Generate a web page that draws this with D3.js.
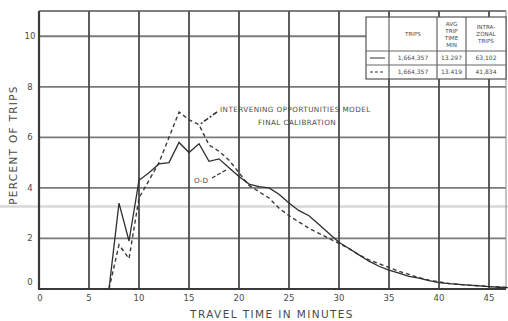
<!DOCTYPE html>
<html>
<head>
<meta charset="utf-8">
<script src="https://cdn.jsdelivr.net/npm/d3@7"></script>
<style>
  html, body { margin: 0; padding: 0; background: #fff; }
  svg { display: block; }
  text { font-family: "DejaVu Sans", sans-serif; fill: #4a4a4a; }
</style>
</head>
<body>
<svg id="chart" width="508" height="321"></svg>
<script>
// Travel time (minutes) for each plotted point
const minutes = [7, 8, 9, 10, 11, 12, 13, 14, 15, 16, 17, 18, 19, 20, 21, 22, 23, 24, 25, 26, 27,
  28, 29, 30, 31, 32, 33, 34, 35, 36, 37, 38, 39, 40, 41, 42, 43, 44, 45, 46, 47];

// Observed origin-destination survey (O-D), percent of trips
const odPercent = [0, 3.4, 1.9, 4.3, 4.6, 4.95, 5.0, 5.8, 5.4, 5.75, 5.05, 5.15, 4.8, 4.45, 4.15,
  4.05, 4.0, 3.75, 3.4, 3.1, 2.9, 2.55, 2.2, 1.85, 1.6, 1.35, 1.1, 0.9, 0.75, 0.63, 0.5, 0.43,
  0.33, 0.25, 0.21, 0.18, 0.15, 0.12, 0.09, 0.07, 0.05];

// Intervening opportunities model, final calibration, percent of trips
const modelPercent = [0, 1.75, 1.2, 3.6, 4.3, 5.0, 6.0, 7.0, 6.7, 6.5, 5.7, 5.45, 5.1, 4.6, 4.1,
  3.85, 3.6, 3.2, 2.9, 2.65, 2.4, 2.2, 2.0, 1.8, 1.6, 1.35, 1.15, 1.0, 0.85, 0.7, 0.58, 0.45,
  0.35, 0.28, 0.22, 0.18, 0.15, 0.13, 0.1, 0.08, 0.06];

const xTicks = [0, 5, 10, 15, 20, 25, 30, 35, 40, 45];
const yTicks = [0, 2, 4, 6, 8, 10];

// Summary table rows
const tableHeaders = [["TRIPS"], ["AVG", "TRIP", "TIME", "MIN"], ["INTRA-", "ZONAL", "TRIPS"]];
const tripTotals = ["1,664,357", "1,664,357"];
const avgTripTimes = ["13.297", "13.419"];
const intraZonalTrips = ["63,102", "41,834"];

const svg = d3.select("#chart");
const x = d3.scaleLinear().domain([0, 46.7]).range([39, 506]);
const y = d3.scaleLinear().domain([0, 11]).range([289, 11]);

// faint scanner streak across the sheet
svg.append("line").attr("x1", 0).attr("x2", 508).attr("y1", 206.5).attr("y2", 206.5)
  .attr("stroke", "#d8d8d8").attr("stroke-width", 2.5);

// horizontal grid
svg.append("g").selectAll("line").data(yTicks.filter(d => d > 0)).join("line")
  .attr("x1", x(0)).attr("x2", x(46.7)).attr("y1", d => y(d)).attr("y2", d => y(d))
  .attr("stroke", "#7a7a7a").attr("stroke-width", 1.8);

// vertical grid
svg.append("g").selectAll("line").data(xTicks.filter(d => d > 0)).join("line")
  .attr("x1", d => x(d)).attr("x2", d => x(d)).attr("y1", y(0)).attr("y2", y(11))
  .attr("stroke", "#4a4a4a").attr("stroke-width", 1.8);

// frame
svg.append("line").attr("x1", x(0)).attr("x2", x(0)).attr("y1", y(0) + 1).attr("y2", y(11))
  .attr("stroke", "#3a3a3a").attr("stroke-width", 2.2);
svg.append("line").attr("x1", x(0)).attr("x2", x(46.7)).attr("y1", y(0)).attr("y2", y(0))
  .attr("stroke", "#3a3a3a").attr("stroke-width", 2.2);
svg.append("line").attr("x1", x(0)).attr("x2", x(46.7)).attr("y1", y(11)).attr("y2", y(11))
  .attr("stroke", "#555").attr("stroke-width", 1.6);
svg.append("line").attr("x1", x(46.7)).attr("x2", x(46.7)).attr("y1", y(0)).attr("y2", y(11))
  .attr("stroke", "#888").attr("stroke-width", 1);

// tick labels
svg.append("g").selectAll("text").data(xTicks).join("text")
  .attr("x", d => x(d) + (d === 0 ? 1 : 0)).attr("y", y(0) + 12)
  .attr("text-anchor", "middle").attr("font-size", 8.5).text(d => d);
svg.append("g").selectAll("text").data(yTicks).join("text")
  .attr("x", 30).attr("y", d => y(d) + (d === 0 ? -4 : 3))
  .attr("text-anchor", "middle").attr("font-size", 8.5).text(d => d);

// axis titles
svg.append("text").attr("transform", "translate(17,145) rotate(-90)")
  .attr("text-anchor", "middle").attr("font-size", 10.5).attr("letter-spacing", 1.3)
  .text("PERCENT OF TRIPS");
svg.append("text").attr("x", 272).attr("y", 318)
  .attr("text-anchor", "middle").attr("font-size", 10.5).attr("letter-spacing", 1.4)
  .text("TRAVEL TIME IN MINUTES");

// curves
const line = d3.line().x(d => x(d[0])).y(d => y(d[1]));
svg.append("path").datum(minutes.map((m, i) => [m, modelPercent[i]]))
  .attr("d", line).attr("fill", "none").attr("stroke", "#3a3a3a")
  .attr("stroke-width", 1.4).attr("stroke-dasharray", "4,3");
svg.append("path").datum(minutes.map((m, i) => [m, odPercent[i]]))
  .attr("d", line).attr("fill", "none").attr("stroke", "#2e2e2e")
  .attr("stroke-width", 1.3);

// annotations
svg.append("text").attr("x", 220).attr("y", 112).attr("font-size", 7.2)
  .attr("letter-spacing", 0.45).text("INTERVENING OPPORTUNITIES MODEL");
svg.append("text").attr("x", 258).attr("y", 125).attr("font-size", 7.2)
  .attr("letter-spacing", 0.45).text("FINAL CALIBRATION");
svg.append("line").attr("x1", 217).attr("y1", 112).attr("x2", 199).attr("y2", 125)
  .attr("stroke", "#333").attr("stroke-width", 1.6).attr("stroke-dasharray", "5,2,2,2");
svg.append("text").attr("x", 194).attr("y", 183).attr("font-size", 7.2).text("O-D");
svg.append("line").attr("x1", 212).attr("y1", 178).attr("x2", 226).attr("y2", 170)
  .attr("stroke", "#333").attr("stroke-width", 1.3).attr("stroke-dasharray", "4,2");

// summary table
const tb = { left: 366, cols: [366, 389, 437, 466, 506], top: 17, head: 51, mid: 65, bottom: 79 };
const table = svg.append("g");
table.append("rect").attr("x", tb.left).attr("y", tb.top)
  .attr("width", tb.cols[4] - tb.left).attr("height", tb.bottom - tb.top)
  .attr("fill", "#fff").attr("stroke", "#555").attr("stroke-width", 1.2);
tb.cols.slice(1, 4).forEach(cx => table.append("line")
  .attr("x1", cx).attr("x2", cx).attr("y1", tb.top).attr("y2", tb.bottom)
  .attr("stroke", "#555").attr("stroke-width", 1.1));
[tb.head, tb.mid].forEach(ry => table.append("line")
  .attr("x1", tb.left).attr("x2", tb.cols[4]).attr("y1", ry).attr("y2", ry)
  .attr("stroke", "#666").attr("stroke-width", 1));

tableHeaders.forEach((lines, c) => {
  const cx = (tb.cols[c + 1] + tb.cols[c + 2]) / 2;
  const lh = 7;
  const y0 = (tb.top + tb.head) / 2 - (lines.length - 1) * lh / 2 + 2;
  lines.forEach((s, k) => table.append("text").attr("x", cx).attr("y", y0 + k * lh)
    .attr("text-anchor", "middle").attr("font-size", 5.6).text(s));
});

const rowY = [(tb.head + tb.mid) / 2 + 2, (tb.mid + tb.bottom) / 2 + 2];
rowY.forEach((ry, r) => {
  table.append("line").attr("x1", 370).attr("x2", 385).attr("y1", ry - 2).attr("y2", ry - 2)
    .attr("stroke", "#333").attr("stroke-width", 1)
    .attr("stroke-dasharray", r === 1 ? "3,2" : null);
  [tripTotals[r], avgTripTimes[r], intraZonalTrips[r]].forEach((s, c) => {
    table.append("text").attr("x", (tb.cols[c + 1] + tb.cols[c + 2]) / 2).attr("y", ry)
      .attr("text-anchor", "middle").attr("font-size", 6).text(s);
  });
});
</script>
</body>
</html>
